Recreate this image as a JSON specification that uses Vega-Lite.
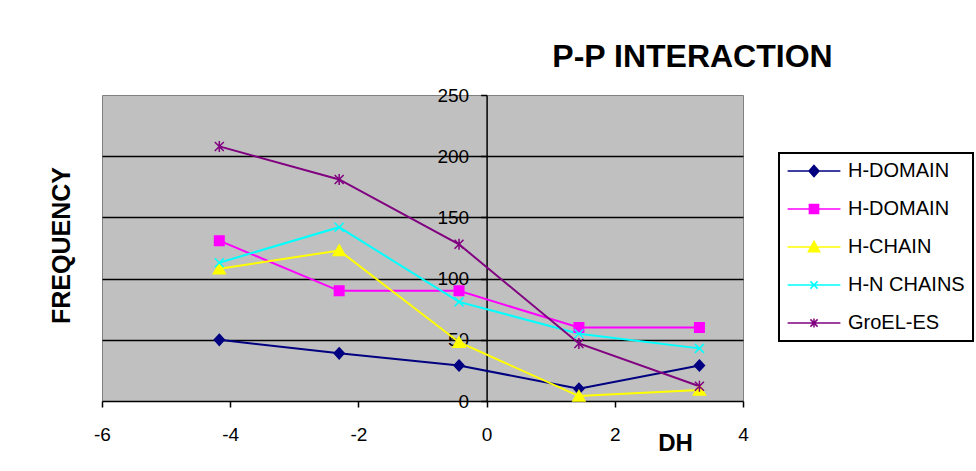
{
  "$schema": "https://vega.github.io/schema/vega-lite/v6.json",
  "width": 641,
  "height": 306,
  "autosize": {"type": "none"},
  "padding": {"left": 102, "top": 95, "right": 233, "bottom": 70},
  "background": "white",
  "title": {
    "text": "P-P INTERACTION",
    "fontSize": 32,
    "fontWeight": "bold",
    "color": "black",
    "anchor": "middle",
    "frame": "group",
    "dx": 270,
    "dy": 39,
    "offset": 26,
    "baseline": "alphabetic"
  },
  "config": {
    "font": "Liberation Sans",
    "view": {"fill": "#C0C0C0", "stroke": "#808080", "strokeWidth": 1},
    "legend": {
      "orient": "none",
      "legendX": 677,
      "legendY": 58,
      "padding": 8,
      "strokeColor": "black",
      "strokeWidth": 2,
      "fillColor": "white",
      "labelFontSize": 20,
      "labelColor": "black",
      "labelLimit": 300,
      "symbolSize": 64,
      "symbolStrokeWidth": 1.5,
      "symbolOffset": 17,
      "labelOffset": 24,
      "rowPadding": 18
    }
  },
  "data": {
    "values": [
      {"series": "H-DOMAIN A", "dh": -4.17, "freq": 50},
      {"series": "H-DOMAIN A", "dh": -2.3, "freq": 39},
      {"series": "H-DOMAIN A", "dh": -0.43, "freq": 29},
      {"series": "H-DOMAIN A", "dh": 1.44, "freq": 10},
      {"series": "H-DOMAIN A", "dh": 3.32, "freq": 29},
      {"series": "H-DOMAIN B", "dh": -4.17, "freq": 131},
      {"series": "H-DOMAIN B", "dh": -2.3, "freq": 90},
      {"series": "H-DOMAIN B", "dh": -0.43, "freq": 90},
      {"series": "H-DOMAIN B", "dh": 1.44, "freq": 60},
      {"series": "H-DOMAIN B", "dh": 3.32, "freq": 60},
      {"series": "H-CHAIN", "dh": -4.17, "freq": 108},
      {"series": "H-CHAIN", "dh": -2.3, "freq": 123},
      {"series": "H-CHAIN", "dh": -0.43, "freq": 48},
      {"series": "H-CHAIN", "dh": 1.44, "freq": 4},
      {"series": "H-CHAIN", "dh": 3.32, "freq": 9},
      {"series": "H-N CHAINS", "dh": -4.17, "freq": 113},
      {"series": "H-N CHAINS", "dh": -2.3, "freq": 142},
      {"series": "H-N CHAINS", "dh": -0.43, "freq": 81},
      {"series": "H-N CHAINS", "dh": 1.44, "freq": 55},
      {"series": "H-N CHAINS", "dh": 3.32, "freq": 43},
      {"series": "GroEL-ES", "dh": -4.17, "freq": 208},
      {"series": "GroEL-ES", "dh": -2.3, "freq": 181},
      {"series": "GroEL-ES", "dh": -0.43, "freq": 128},
      {"series": "GroEL-ES", "dh": 1.44, "freq": 47},
      {"series": "GroEL-ES", "dh": 3.32, "freq": 12}
    ]
  },
  "encoding": {
    "x": {
      "field": "dh",
      "type": "quantitative",
      "scale": {"domain": [-6, 4], "nice": false, "zero": false},
      "axis": {
        "values": [-6, -4, -2, 0, 2, 4],
        "labelExpr": "replace(datum.label, '−', '-')",
        "grid": false,
        "domainColor": "black",
        "domainWidth": 1.5,
        "tickColor": "black",
        "tickSize": 6,
        "tickWidth": 1.5,
        "labelFontSize": 19,
        "labelColor": "black",
        "labelPadding": 18,
        "labelFlush": false,
        "title": "DH",
        "titleFontSize": 24,
        "titleFontWeight": "bold",
        "titleColor": "black",
        "titleX": 573,
        "titleY": 42,
        "titleAlign": "center",
        "titleBaseline": "middle"
      }
    },
    "y": {
      "field": "freq",
      "type": "quantitative",
      "scale": {"domain": [0, 250], "nice": false},
      "axis": {
        "values": [0, 50, 100, 150, 200, 250],
        "offset": -384.6,
        "grid": true,
        "gridColor": {"condition": {"test": "datum.value == 250 || datum.value == 0", "value": "transparent"}, "value": "black"},
        "gridWidth": 1.5,
        "domainColor": "black",
        "domainWidth": 1.5,
        "tickColor": "black",
        "tickSize": 6,
        "tickWidth": 1.5,
        "labelFontSize": 19,
        "labelColor": "black",
        "labelPadding": 12,
        "title": "FREQUENCY",
        "titleFontSize": 25,
        "titleFontWeight": "bold",
        "titleColor": "black",
        "titleAngle": -90,
        "titleX": -425,
        "titleY": 150,
        "titleAlign": "center",
        "titleBaseline": "middle"
      }
    }
  },
  "layer": [
    {
      "mark": {"type": "line", "strokeWidth": 2},
      "encoding": {
        "color": {
          "field": "series",
          "type": "nominal",
          "scale": {
            "domain": ["H-DOMAIN A", "H-DOMAIN B", "H-CHAIN", "H-N CHAINS", "GroEL-ES"],
            "range": ["#000080", "#FF00FF", "#FFFF00", "#00FFFF", "#800080"]
          },
          "legend": null
        }
      }
    },
    {
      "mark": {"type": "point", "filled": true, "opacity": 1, "size": 100, "strokeWidth": 1.5},
      "encoding": {
        "fill": {
          "field": "series",
          "type": "nominal",
          "scale": {
            "domain": ["H-DOMAIN A", "H-DOMAIN B", "H-CHAIN", "H-N CHAINS", "GroEL-ES"],
            "range": ["#000080", "#FF00FF", "#FFFF00", "#00FFFF", "#800080"]
          },
          "legend": null
        },
        "stroke": {
          "field": "series",
          "type": "nominal",
          "scale": {
            "domain": ["H-DOMAIN A", "H-DOMAIN B", "H-CHAIN", "H-N CHAINS", "GroEL-ES"],
            "range": ["#000080", "#FF00FF", "#FFFF00", "#00FFFF", "#800080"]
          },
          "legend": null
        },
        "shape": {
          "field": "series",
          "type": "nominal",
          "scale": {
            "domain": ["H-DOMAIN A", "H-DOMAIN B", "H-CHAIN", "H-N CHAINS", "GroEL-ES"],
            "range": [
              "M0,-1.1L1,0L0,1.1L-1,0Z",
              "M-0.95,-0.95H0.95V0.95H-0.95Z",
              "M0,-1.1L1.2,1H-1.2Z",
              "M-0.9,-0.9L0.9,0.9M-0.9,0.9L0.9,-0.9",
              "M-0.9,-0.9L0.9,0.9M-0.9,0.9L0.9,-0.9M0,-1.1V1.1"
            ]
          },
          "legend": null
        }
      }
    },
    {
      "transform": [{"filter": {"field": "freq", "lt": -1000}}],
      "mark": {"type": "point", "filled": true, "opacity": 1, "size": 64, "strokeWidth": 1.5},
      "encoding": {
        "fill": {
          "field": "series",
          "type": "nominal",
          "scale": {
            "domain": ["H-DOMAIN A", "H-DOMAIN B", "H-CHAIN", "H-N CHAINS", "GroEL-ES"],
            "range": ["#000080", "#FF00FF", "#FFFF00", "#00FFFF", "#800080"]
          },
          "legend": {"title": null, "labelExpr": "datum.label == 'H-DOMAIN A' || datum.label == 'H-DOMAIN B' ? 'H-DOMAIN' : datum.label"}
        },
        "stroke": {
          "field": "series",
          "type": "nominal",
          "scale": {
            "domain": ["H-DOMAIN A", "H-DOMAIN B", "H-CHAIN", "H-N CHAINS", "GroEL-ES"],
            "range": ["#000080", "#FF00FF", "#FFFF00", "#00FFFF", "#800080"]
          },
          "legend": {"title": null, "labelExpr": "datum.label == 'H-DOMAIN A' || datum.label == 'H-DOMAIN B' ? 'H-DOMAIN' : datum.label"}
        },
        "shape": {
          "field": "series",
          "type": "nominal",
          "scale": {
            "domain": ["H-DOMAIN A", "H-DOMAIN B", "H-CHAIN", "H-N CHAINS", "GroEL-ES"],
            "range": [
              "M-6.6,0H6.6M0,-1.4L1.25,0L0,1.4L-1.25,0Z",
              "M-6.6,0H6.6M-1.15,-1.15H1.15V1.15H-1.15Z",
              "M-6.6,0H6.6M0,-1.4L1.4,1.2H-1.4Z",
              "M-6.6,0H6.6M-0.9,-0.9L0.9,0.9M-0.9,0.9L0.9,-0.9",
              "M-6.6,0H6.6M-0.9,-0.9L0.9,0.9M-0.9,0.9L0.9,-0.9M0,-1.1V1.1"
            ]
          },
          "legend": {"title": null, "labelExpr": "datum.label == 'H-DOMAIN A' || datum.label == 'H-DOMAIN B' ? 'H-DOMAIN' : datum.label"}
        }
      }
    }
  ],
  "resolve": {
    "scale": {"color": "independent", "fill": "independent", "stroke": "independent", "shape": "independent"}
  }
}
